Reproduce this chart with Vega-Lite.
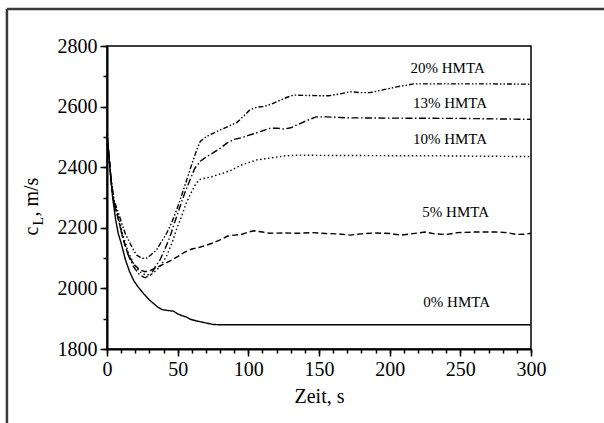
{
  "$schema": "https://vega.github.io/schema/vega-lite/v6.json",
  "width": 424,
  "height": 303,
  "autosize": {"type": "none"},
  "padding": {"left": 107, "top": 46, "right": 73, "bottom": 74},
  "background": "white",
  "config": {
    "view": {"stroke": "black", "strokeWidth": 1.5},
    "font": "Liberation Serif",
    "text": {"font": "Liberation Serif"},
    "axis": {
      "grid": false,
      "domainColor": "black",
      "domainWidth": 2,
      "tickColor": "black",
      "tickWidth": 1.5,
      "labelColor": "black",
      "titleColor": "black",
      "labelFont": "Liberation Serif",
      "titleFont": "Liberation Serif",
      "labelFontSize": 20,
      "titleFontSize": 20,
      "titleFontWeight": "normal",
      "labelOverlap": false,
      "labelFlush": false
    }
  },
  "datasets": {
    "curves": [
      {"s": "0% HMTA", "t": 0, "v": 2510}, {"s": "0% HMTA", "t": 2, "v": 2400}, {"s": "0% HMTA", "t": 4, "v": 2300}, {"s": "0% HMTA", "t": 6, "v": 2230}, {"s": "0% HMTA", "t": 8, "v": 2180}, {"s": "0% HMTA", "t": 10, "v": 2150}, {"s": "0% HMTA", "t": 13, "v": 2095}, {"s": "0% HMTA", "t": 16, "v": 2055}, {"s": "0% HMTA", "t": 19, "v": 2025}, {"s": "0% HMTA", "t": 22, "v": 2005}, {"s": "0% HMTA", "t": 26, "v": 1982}, {"s": "0% HMTA", "t": 30, "v": 1962}, {"s": "0% HMTA", "t": 33, "v": 1950}, {"s": "0% HMTA", "t": 36, "v": 1938}, {"s": "0% HMTA", "t": 39, "v": 1930}, {"s": "0% HMTA", "t": 43, "v": 1927}, {"s": "0% HMTA", "t": 47, "v": 1925}, {"s": "0% HMTA", "t": 50, "v": 1916}, {"s": "0% HMTA", "t": 53, "v": 1910}, {"s": "0% HMTA", "t": 56, "v": 1906}, {"s": "0% HMTA", "t": 59, "v": 1898}, {"s": "0% HMTA", "t": 63, "v": 1893}, {"s": "0% HMTA", "t": 67, "v": 1889}, {"s": "0% HMTA", "t": 71, "v": 1885}, {"s": "0% HMTA", "t": 75, "v": 1881}, {"s": "0% HMTA", "t": 80, "v": 1880}, {"s": "0% HMTA", "t": 300, "v": 1880},

      {"s": "5% HMTA", "t": 0, "v": 2510}, {"s": "5% HMTA", "t": 3, "v": 2350}, {"s": "5% HMTA", "t": 5, "v": 2280}, {"s": "5% HMTA", "t": 8, "v": 2230}, {"s": "5% HMTA", "t": 11, "v": 2170}, {"s": "5% HMTA", "t": 15, "v": 2110}, {"s": "5% HMTA", "t": 19, "v": 2080}, {"s": "5% HMTA", "t": 23, "v": 2062}, {"s": "5% HMTA", "t": 27, "v": 2055}, {"s": "5% HMTA", "t": 31, "v": 2060}, {"s": "5% HMTA", "t": 35, "v": 2068}, {"s": "5% HMTA", "t": 40, "v": 2080}, {"s": "5% HMTA", "t": 45, "v": 2092}, {"s": "5% HMTA", "t": 50, "v": 2105}, {"s": "5% HMTA", "t": 55, "v": 2120}, {"s": "5% HMTA", "t": 60, "v": 2130}, {"s": "5% HMTA", "t": 65, "v": 2135}, {"s": "5% HMTA", "t": 70, "v": 2142}, {"s": "5% HMTA", "t": 75, "v": 2150}, {"s": "5% HMTA", "t": 80, "v": 2160}, {"s": "5% HMTA", "t": 85, "v": 2172}, {"s": "5% HMTA", "t": 90, "v": 2176}, {"s": "5% HMTA", "t": 95, "v": 2178}, {"s": "5% HMTA", "t": 100, "v": 2186}, {"s": "5% HMTA", "t": 104, "v": 2190}, {"s": "5% HMTA", "t": 110, "v": 2186}, {"s": "5% HMTA", "t": 115, "v": 2182}, {"s": "5% HMTA", "t": 125, "v": 2183}, {"s": "5% HMTA", "t": 135, "v": 2182}, {"s": "5% HMTA", "t": 145, "v": 2184}, {"s": "5% HMTA", "t": 155, "v": 2181}, {"s": "5% HMTA", "t": 163, "v": 2180}, {"s": "5% HMTA", "t": 172, "v": 2176}, {"s": "5% HMTA", "t": 180, "v": 2180}, {"s": "5% HMTA", "t": 190, "v": 2183}, {"s": "5% HMTA", "t": 200, "v": 2181}, {"s": "5% HMTA", "t": 208, "v": 2176}, {"s": "5% HMTA", "t": 215, "v": 2180}, {"s": "5% HMTA", "t": 225, "v": 2186}, {"s": "5% HMTA", "t": 232, "v": 2180}, {"s": "5% HMTA", "t": 240, "v": 2178}, {"s": "5% HMTA", "t": 248, "v": 2184}, {"s": "5% HMTA", "t": 260, "v": 2186}, {"s": "5% HMTA", "t": 275, "v": 2186}, {"s": "5% HMTA", "t": 283, "v": 2184}, {"s": "5% HMTA", "t": 290, "v": 2178}, {"s": "5% HMTA", "t": 296, "v": 2179}, {"s": "5% HMTA", "t": 300, "v": 2182},

      {"s": "10% HMTA", "t": 0, "v": 2510}, {"s": "10% HMTA", "t": 3, "v": 2350}, {"s": "10% HMTA", "t": 5, "v": 2280}, {"s": "10% HMTA", "t": 8, "v": 2240}, {"s": "10% HMTA", "t": 11, "v": 2180}, {"s": "10% HMTA", "t": 15, "v": 2120}, {"s": "10% HMTA", "t": 19, "v": 2080}, {"s": "10% HMTA", "t": 23, "v": 2055}, {"s": "10% HMTA", "t": 27, "v": 2045}, {"s": "10% HMTA", "t": 31, "v": 2045}, {"s": "10% HMTA", "t": 35, "v": 2060}, {"s": "10% HMTA", "t": 38, "v": 2075}, {"s": "10% HMTA", "t": 42, "v": 2105}, {"s": "10% HMTA", "t": 46, "v": 2150}, {"s": "10% HMTA", "t": 49, "v": 2193}, {"s": "10% HMTA", "t": 53, "v": 2240}, {"s": "10% HMTA", "t": 56, "v": 2281}, {"s": "10% HMTA", "t": 60, "v": 2320}, {"s": "10% HMTA", "t": 63, "v": 2347}, {"s": "10% HMTA", "t": 66, "v": 2360}, {"s": "10% HMTA", "t": 70, "v": 2365}, {"s": "10% HMTA", "t": 74, "v": 2368}, {"s": "10% HMTA", "t": 78, "v": 2375}, {"s": "10% HMTA", "t": 82, "v": 2380}, {"s": "10% HMTA", "t": 88, "v": 2390}, {"s": "10% HMTA", "t": 94, "v": 2405}, {"s": "10% HMTA", "t": 100, "v": 2415}, {"s": "10% HMTA", "t": 106, "v": 2424}, {"s": "10% HMTA", "t": 112, "v": 2428}, {"s": "10% HMTA", "t": 118, "v": 2432}, {"s": "10% HMTA", "t": 125, "v": 2437}, {"s": "10% HMTA", "t": 135, "v": 2440}, {"s": "10% HMTA", "t": 150, "v": 2439}, {"s": "10% HMTA", "t": 200, "v": 2438}, {"s": "10% HMTA", "t": 250, "v": 2437}, {"s": "10% HMTA", "t": 300, "v": 2435},

      {"s": "13% HMTA", "t": 0, "v": 2510}, {"s": "13% HMTA", "t": 3, "v": 2350}, {"s": "13% HMTA", "t": 5, "v": 2280}, {"s": "13% HMTA", "t": 8, "v": 2230}, {"s": "13% HMTA", "t": 11, "v": 2170}, {"s": "13% HMTA", "t": 15, "v": 2110}, {"s": "13% HMTA", "t": 19, "v": 2070}, {"s": "13% HMTA", "t": 23, "v": 2045}, {"s": "13% HMTA", "t": 27, "v": 2035}, {"s": "13% HMTA", "t": 31, "v": 2045}, {"s": "13% HMTA", "t": 34, "v": 2070}, {"s": "13% HMTA", "t": 37.5, "v": 2094}, {"s": "13% HMTA", "t": 41, "v": 2130}, {"s": "13% HMTA", "t": 44.6, "v": 2171}, {"s": "13% HMTA", "t": 48, "v": 2220}, {"s": "13% HMTA", "t": 51.7, "v": 2270}, {"s": "13% HMTA", "t": 55, "v": 2315}, {"s": "13% HMTA", "t": 58.7, "v": 2358}, {"s": "13% HMTA", "t": 62, "v": 2395}, {"s": "13% HMTA", "t": 66, "v": 2420}, {"s": "13% HMTA", "t": 70, "v": 2433}, {"s": "13% HMTA", "t": 75, "v": 2447}, {"s": "13% HMTA", "t": 80, "v": 2462}, {"s": "13% HMTA", "t": 85, "v": 2480}, {"s": "13% HMTA", "t": 90, "v": 2492}, {"s": "13% HMTA", "t": 95, "v": 2497}, {"s": "13% HMTA", "t": 100, "v": 2505}, {"s": "13% HMTA", "t": 105, "v": 2512}, {"s": "13% HMTA", "t": 110, "v": 2520}, {"s": "13% HMTA", "t": 115, "v": 2528}, {"s": "13% HMTA", "t": 120, "v": 2529}, {"s": "13% HMTA", "t": 125, "v": 2526}, {"s": "13% HMTA", "t": 130, "v": 2530}, {"s": "13% HMTA", "t": 137, "v": 2545}, {"s": "13% HMTA", "t": 143, "v": 2557}, {"s": "13% HMTA", "t": 148, "v": 2566}, {"s": "13% HMTA", "t": 155, "v": 2566}, {"s": "13% HMTA", "t": 170, "v": 2563}, {"s": "13% HMTA", "t": 200, "v": 2562}, {"s": "13% HMTA", "t": 250, "v": 2561}, {"s": "13% HMTA", "t": 300, "v": 2558},

      {"s": "20% HMTA", "t": 0, "v": 2510}, {"s": "20% HMTA", "t": 3, "v": 2360}, {"s": "20% HMTA", "t": 5, "v": 2290}, {"s": "20% HMTA", "t": 8, "v": 2250}, {"s": "20% HMTA", "t": 10.4, "v": 2215}, {"s": "20% HMTA", "t": 13, "v": 2180}, {"s": "20% HMTA", "t": 16.3, "v": 2149}, {"s": "20% HMTA", "t": 19, "v": 2125}, {"s": "20% HMTA", "t": 21, "v": 2110}, {"s": "20% HMTA", "t": 24.5, "v": 2099}, {"s": "20% HMTA", "t": 28, "v": 2100}, {"s": "20% HMTA", "t": 31, "v": 2110}, {"s": "20% HMTA", "t": 35, "v": 2127}, {"s": "20% HMTA", "t": 38, "v": 2150}, {"s": "20% HMTA", "t": 42.2, "v": 2182}, {"s": "20% HMTA", "t": 46, "v": 2220}, {"s": "20% HMTA", "t": 49.3, "v": 2259}, {"s": "20% HMTA", "t": 53, "v": 2310}, {"s": "20% HMTA", "t": 56.4, "v": 2358}, {"s": "20% HMTA", "t": 60, "v": 2410}, {"s": "20% HMTA", "t": 63.5, "v": 2457}, {"s": "20% HMTA", "t": 66, "v": 2485}, {"s": "20% HMTA", "t": 70, "v": 2500}, {"s": "20% HMTA", "t": 75, "v": 2512}, {"s": "20% HMTA", "t": 80, "v": 2523}, {"s": "20% HMTA", "t": 86, "v": 2535}, {"s": "20% HMTA", "t": 92, "v": 2548}, {"s": "20% HMTA", "t": 97, "v": 2570}, {"s": "20% HMTA", "t": 101, "v": 2589}, {"s": "20% HMTA", "t": 106, "v": 2598}, {"s": "20% HMTA", "t": 111, "v": 2600}, {"s": "20% HMTA", "t": 116, "v": 2608}, {"s": "20% HMTA", "t": 122, "v": 2620}, {"s": "20% HMTA", "t": 127, "v": 2630}, {"s": "20% HMTA", "t": 132, "v": 2638}, {"s": "20% HMTA", "t": 140, "v": 2637}, {"s": "20% HMTA", "t": 150, "v": 2636}, {"s": "20% HMTA", "t": 157, "v": 2636}, {"s": "20% HMTA", "t": 165, "v": 2642}, {"s": "20% HMTA", "t": 172, "v": 2649}, {"s": "20% HMTA", "t": 180, "v": 2646}, {"s": "20% HMTA", "t": 186, "v": 2646}, {"s": "20% HMTA", "t": 195, "v": 2655}, {"s": "20% HMTA", "t": 205, "v": 2665}, {"s": "20% HMTA", "t": 217, "v": 2675}, {"s": "20% HMTA", "t": 240, "v": 2675}, {"s": "20% HMTA", "t": 270, "v": 2675}, {"s": "20% HMTA", "t": 300, "v": 2674}
    ],
    "labels": [
      {"label": "20% HMTA", "t": 241, "v": 2728},
      {"label": "13% HMTA", "t": 242.7, "v": 2613},
      {"label": "10% HMTA", "t": 242.7, "v": 2492},
      {"label": "5% HMTA", "t": 246.7, "v": 2253},
      {"label": "0% HMTA", "t": 247.4, "v": 1954}
    ]
  },
  "layer": [
    {
      "data": {"name": "curves"},
      "mark": {"type": "line", "color": "black", "strokeWidth": 1.4},
      "encoding": {
        "x": {
          "field": "t", "type": "quantitative",
          "scale": {"domain": [0, 300], "nice": false},
          "axis": {
            "orient": "bottom",
            "values": [0, 50, 100, 150, 200, 250, 300],
            "tickSize": 7,
            "labelPadding": 3,
            "title": "Zeit, s",
            "titleY": 53,
            "titleBaseline": "alphabetic"
          }
        },
        "y": {
          "field": "v", "type": "quantitative",
          "scale": {"domain": [1800, 2800], "nice": false, "zero": false},
          "axis": {
            "orient": "left",
            "values": [1800, 2000, 2200, 2400, 2600, 2800],
            "format": "d",
            "tickSize": 7,
            "labelPadding": 3,
            "title": "c\u00a0\u00a0, m/s",
            "titleX": -70,
            "titleY": 160,
            "titleAngle": -90,
            "titleAlign": "center",
            "titleBaseline": "alphabetic"
          }
        },
        "strokeDash": {
          "field": "s", "type": "nominal",
          "scale": {
            "domain": ["0% HMTA", "5% HMTA", "10% HMTA", "13% HMTA", "20% HMTA"],
            "range": [[1, 0], [6, 3], [1.5, 2.5], [7, 2.5, 1.5, 2.5], [5, 2, 1.5, 2, 1.5, 2]]
          },
          "legend": null
        }
      }
    },
    {
      "data": {"name": "labels"},
      "mark": {"type": "text", "font": "Liberation Serif", "fontSize": 15, "color": "black", "align": "center", "baseline": "middle"},
      "encoding": {
        "x": {
          "field": "t", "type": "quantitative",
          "axis": {
            "orient": "bottom",
            "values": [0,10,20,30,40,50,60,70,80,90,100,110,120,130,140,150,160,170,180,190,200,210,220,230,240,250,260,270,280,290,300],
            "tickSize": 4,
            "labels": false,
            "domain": false,
            "title": null
          }
        },
        "y": {
          "field": "v", "type": "quantitative",
          "axis": {
            "orient": "left",
            "values": [1800,1900,2000,2100,2200,2300,2400,2500,2600,2700,2800],
            "tickSize": 4,
            "labels": false,
            "domain": false,
            "title": "L",
            "titleFontSize": 14,
            "titleX": -65,
            "titleY": 174.7,
            "titleAngle": -90,
            "titleAlign": "center",
            "titleBaseline": "alphabetic"
          }
        },
        "text": {"field": "label"}
      }
    },
    {
      "data": {"values": [{"edge": "top"}]},
      "mark": {"type": "rule", "color": "#3a3a3a", "strokeWidth": 2.5},
      "encoding": {
        "x": {"datum": -70.8, "type": "quantitative", "axis": null},
        "x2": {"datum": 352},
        "y": {"datum": 2922, "type": "quantitative", "axis": null}
      }
    },
    {
      "data": {"values": [{"edge": "left"}]},
      "mark": {"type": "rule", "color": "#3a3a3a", "strokeWidth": 2.5},
      "encoding": {
        "x": {"datum": -70.8, "type": "quantitative", "axis": null},
        "y": {"datum": 2922, "type": "quantitative", "axis": null},
        "y2": {"datum": 1550}
      }
    }
  ],
  "resolve": {"axis": {"x": "independent", "y": "independent"}}
}
